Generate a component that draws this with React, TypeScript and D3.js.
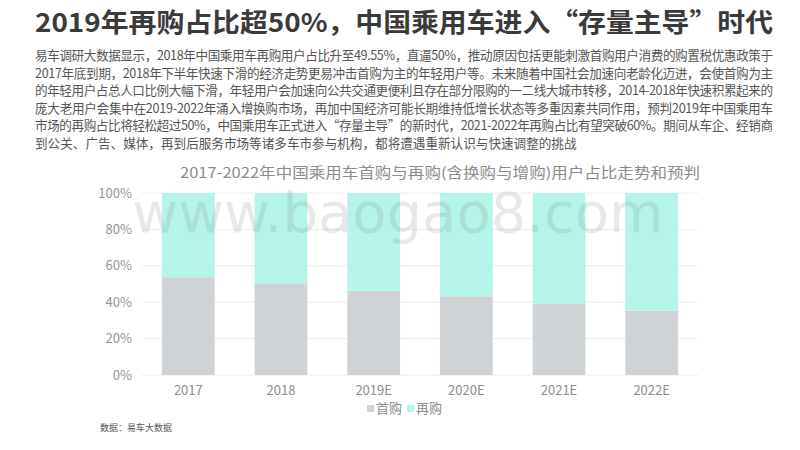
import React from "react";
import * as d3 from "d3";

const years = ["2017", "2018", "2019E", "2020E", "2021E", "2022E"];
const firstBuy = [53.7, 50.45, 46.3, 43.2, 39.2, 35.3];
const reBuy = [46.3, 49.55, 53.7, 56.8, 60.8, 64.7];
const seriesNames = ["首购", "再购"];
const yTicks = [0, 20, 40, 60, 80, 100];

const title = "2019年再购占比超50%，中国乘用车进入“存量主导”时代";
const paragraph = [
    "易车调研大数据显示，2018年中国乘用车再购用户占比升至49.55%，直逼50%，推动原因包括更能刺激首购用户消费的购置税优惠政策于",
    "2017年底到期，2018年下半年快速下滑的经济走势更易冲击首购为主的年轻用户等。未来随着中国社会加速向老龄化迈进，会使首购为主",
    "的年轻用户占总人口比例大幅下滑，年轻用户会加速向公共交通更便利且存在部分限购的一二线大城市转移，2014-2018年快速积累起来的",
    "庞大老用户会集中在2019-2022年涌入增换购市场，再加中国经济可能长期维持低增长状态等多重因素共同作用，预判2019年中国乘用车",
    "市场的再购占比将轻松超过50%，中国乘用车正式进入“存量主导”的新时代，2021-2022年再购占比有望突破60%。期间从车企、经销商",
    "到公关、广告、媒体，再到后服务市场等诸多车市参与机构，都将遭遇重新认识与快速调整的挑战",
];
const chartTitle = "2017-2022年中国乘用车首购与再购(含换购与增购)用户占比走势和预判";
const source = "数据：易车大数据";

const colors = ["#d0d3d6", "#b4f4e9"];
const font = "'Noto Sans CJK SC', 'Noto Sans', sans-serif";

const W = 800, H = 450;
const plot = { left: 142, right: 698, top: 193, bottom: 375 };

export default function App() {
    const x = d3.scaleBand().domain(years).range([plot.left, plot.right]).paddingInner(0.43).paddingOuter(0.215);
    const y = d3.scaleLinear().domain([0, 100]).range([plot.bottom, plot.top]);
    const rows = years.map((yr, i) => ({ yr, first: firstBuy[i], re: reBuy[i] }));
    const stack = d3.stack<any>().keys(["first", "re"])(rows);

    return (
        <svg width={W} height={H} style={{ position: "absolute", left: 0, top: 0, background: "#fff" }} fontFamily={font}>
            <rect width={W} height={H} fill="#fff" />
            <text x={35} y={32} fontSize={26} fontWeight="bold" fill="#3a3a3a" textLength={738} lengthAdjust="spacingAndGlyphs">{title}</text>
            {paragraph.map((line, i) => (
                <text key={i} x={35} y={60 + i * 17.6} fontSize={12.6} fill="#555"
                    {...(i < paragraph.length - 1 ? { textLength: 738, lengthAdjust: "spacing" } : {})}>{line}</text>
            ))}
            <text x={180} y={178} fontSize={14.5} fill="#8c8c8c" textLength={520} lengthAdjust="spacingAndGlyphs">{chartTitle}</text>

            {yTicks.map(t => (
                <g key={t}>
                    <line x1={plot.left} x2={plot.right} y1={y(t)} y2={y(t)} stroke="#ececec" />
                    <text x={plot.left - 10} y={y(t) + 4.5} textAnchor="end" fontSize={13} fill="#949494">{t}%</text>
                </g>
            ))}

            {stack.map((s, si) => (
                <g key={si} fill={colors[si]}>
                    {s.map((d, i) => (
                        <rect key={i} x={x(years[i])} width={x.bandwidth()} y={y(d[1])} height={y(d[0]) - y(d[1])} />
                    ))}
                </g>
            ))}

            <text x={398} y={232} textAnchor="middle" fontSize={56} fill="#7f8a86" opacity={0.18} fontFamily="'DejaVu Sans', sans-serif" pointerEvents="none">www.baogao8.com</text>

            {years.map(yr => (
                <text key={yr} x={(x(yr) as number) + x.bandwidth() / 2} y={395} textAnchor="middle" fontSize={13} fill="#8c8c8c">{yr}</text>
            ))}

            <g fontSize={13} fill="#8c8c8c">
                <rect x={367} y={405} width={7} height={7} fill={colors[0]} />
                <text x={376} y={413}>{seriesNames[0]}</text>
                <rect x={407} y={405} width={7} height={7} fill={colors[1]} />
                <text x={416} y={413}>{seriesNames[1]}</text>
            </g>

            <text x={100} y={431} fontSize={9} fill="#555">{source}</text>
        </svg>
    );
}
